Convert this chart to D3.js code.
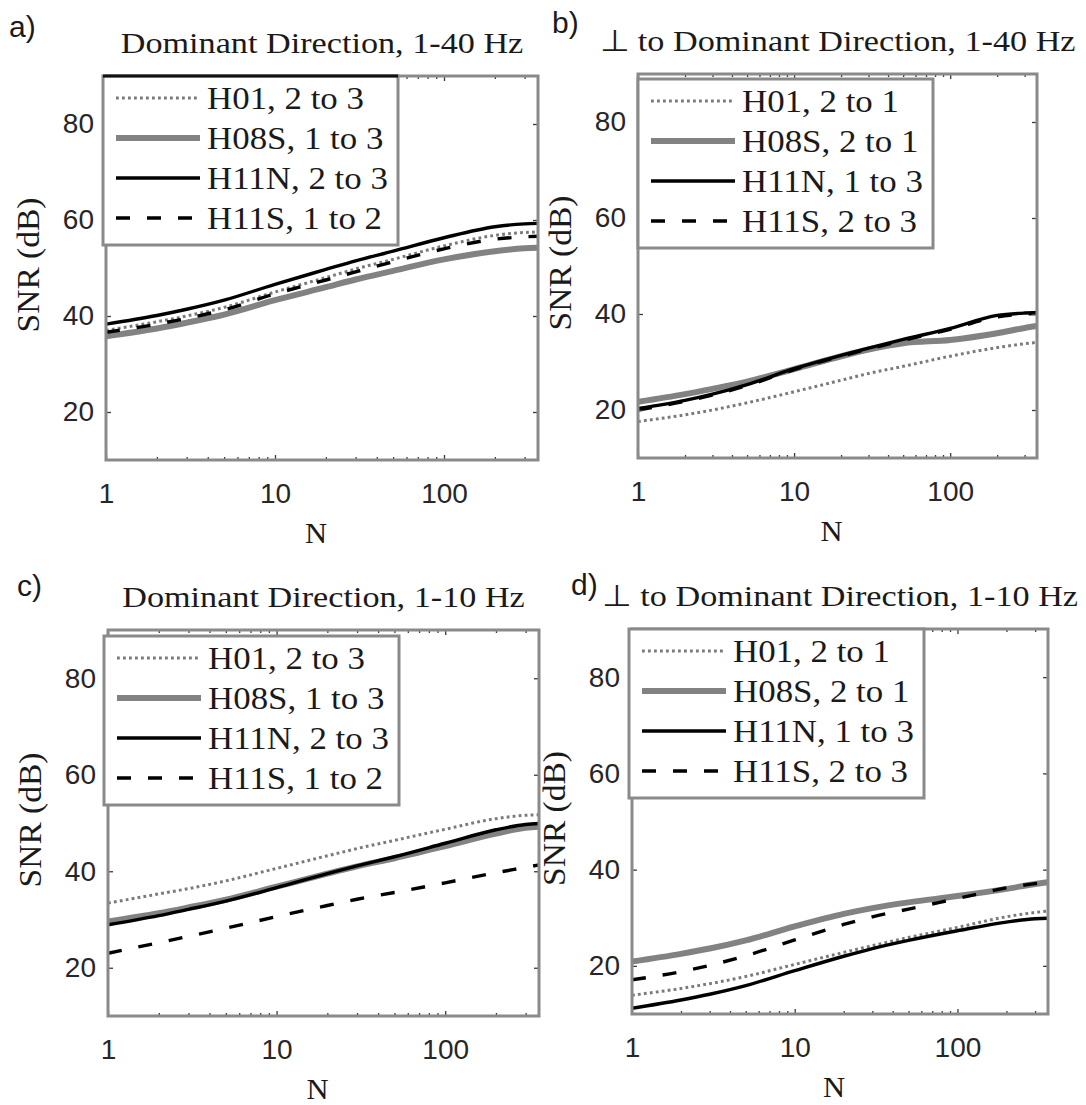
<!DOCTYPE html>
<html>
<head>
<meta charset="utf-8">
<script src="https://cdn.jsdelivr.net/npm/d3@7"></script>
<style>
  html, body { margin: 0; padding: 0; background: #fff; }
  svg { display: block; }
</style>
</head>
<body>
<svg id="chart" width="1086" height="1105"></svg>
<script>
// ---- data -------------------------------------------------------------
const stackSizes = [1, 2, 3, 5, 10, 20, 30, 50, 100, 200, 300, 360];
const xTickValues = [1, 10, 100];
const xMinorValues = [2, 3, 4, 5, 6, 7, 8, 9, 20, 30, 40, 50, 60, 70, 80, 90, 200, 300];
const yTickValues = [20, 40, 60, 80];
const seriesKeys = ["H01", "H08S", "H11N", "H11S"];

const legendDominant = ["H01, 2 to 3", "H08S, 1 to 3", "H11N, 2 to 3", "H11S, 1 to 2"];
const legendPerp = ["H01, 2 to 1", "H08S, 2 to 1", "H11N, 1 to 3", "H11S, 2 to 3"];

const panelLabels = ["a)", "b)", "c)", "d)"];
const panelTitles = [
  "Dominant Direction, 1-40 Hz",
  "\u22A5 to Dominant Direction, 1-40 Hz",
  "Dominant Direction, 1-10 Hz",
  "\u22A5 to Dominant Direction, 1-10 Hz"
];

// SNR (dB) against stack size N
const snrA_H01  = [37.0, 38.8, 40.0, 41.8, 45.0, 48.0, 49.8, 51.8, 54.6, 56.8, 57.4, 57.5];
const snrA_H08S = [35.8, 37.4, 38.6, 40.3, 43.3, 46.0, 47.6, 49.4, 51.8, 53.5, 54.1, 54.2];
const snrA_H11N = [38.3, 40.1, 41.4, 43.3, 46.6, 49.7, 51.5, 53.5, 56.3, 58.6, 59.2, 59.3];
const snrA_H11S = [36.6, 38.3, 39.5, 41.3, 44.6, 47.5, 49.2, 51.3, 54.0, 56.0, 56.5, 56.6];

const snrB_H01  = [17.6, 19.0, 20.0, 21.5, 23.8, 26.2, 27.6, 29.1, 31.2, 33.0, 33.8, 34.1];
const snrB_H08S = [21.7, 23.3, 24.4, 25.9, 28.5, 31.2, 32.6, 33.9, 34.6, 36.0, 37.1, 37.5];
const snrB_H11N = [20.3, 22.0, 23.3, 25.3, 28.6, 31.4, 32.9, 34.7, 37.0, 39.7, 40.2, 40.3];
const snrB_H11S = [20.0, 21.8, 23.1, 25.1, 28.4, 31.2, 32.7, 34.5, 36.8, 39.4, 40.0, 40.1];

const snrC_H01  = [33.4, 35.3, 36.4, 38.0, 40.6, 43.2, 44.7, 46.4, 48.7, 50.9, 51.6, 51.7];
const snrC_H08S = [29.6, 31.3, 32.5, 34.1, 36.8, 39.5, 41.0, 42.7, 45.2, 47.8, 49.0, 49.2];
const snrC_H11N = [28.9, 30.8, 32.1, 33.8, 36.6, 39.5, 41.1, 43.0, 45.8, 48.6, 49.7, 49.9];
const snrC_H11S = [23.0, 25.2, 26.5, 28.2, 30.6, 32.9, 34.2, 35.6, 37.6, 39.7, 40.8, 41.3];

const snrD_H01  = [13.9, 15.3, 16.3, 17.8, 20.3, 22.8, 24.2, 25.9, 28.0, 30.2, 31.1, 31.4];
const snrD_H08S = [20.9, 22.5, 23.6, 25.3, 28.2, 30.8, 32.0, 33.2, 34.5, 36.0, 37.0, 37.4];
const snrD_H11N = [11.2, 12.9, 14.1, 15.9, 19.0, 22.0, 23.6, 25.3, 27.3, 29.1, 29.8, 29.9];
const snrD_H11S = [17.1, 18.8, 20.1, 22.1, 25.4, 28.6, 30.2, 31.8, 34.0, 36.2, 37.1, 37.4];

// ---- layout & styles -------------------------------------------------
const xDomain = [1, 360];
const yDomain = [10, 90];

const panels = [
  { label: panelLabels[0], title: panelTitles[0], legend: legendDominant,
    series: [snrA_H01, snrA_H08S, snrA_H11N, snrA_H11S],
    box: { l: 106, r: 538, t: 76, b: 460 }, labelPos: [9, 37],
    legendOff: [-3, 0], legendTopColor: "#111" },
  { label: panelLabels[1], title: panelTitles[1], legend: legendPerp,
    series: [snrB_H01, snrB_H08S, snrB_H11N, snrB_H11S],
    box: { l: 638, r: 1037, t: 74, b: 458 }, labelPos: [552, 33],
    legendOff: [0, 5], legendTopColor: null },
  { label: panelLabels[2], title: panelTitles[2], legend: legendDominant,
    series: [snrC_H01, snrC_H08S, snrC_H11N, snrC_H11S],
    box: { l: 108, r: 539, t: 630, b: 1016 }, labelPos: [17, 596],
    legendOff: [-4, 6], legendTopColor: null },
  { label: panelLabels[3], title: panelTitles[3], legend: legendPerp,
    series: [snrD_H01, snrD_H08S, snrD_H11N, snrD_H11S],
    box: { l: 632, r: 1048, t: 629, b: 1014 }, labelPos: [571, 595],
    legendOff: [-3, 0], legendTopColor: null }
];

const lineStyles = {
  H01:  { stroke: "#7a7a7a", width: 3,   dash: "2.8,3.2" },
  H08S: { stroke: "#828282", width: 6,   dash: null },
  H11N: { stroke: "#000000", width: 3.4, dash: null },
  H11S: { stroke: "#000000", width: 3.4, dash: "14,17" }
};

const SERIF = "'Liberation Serif', 'Times New Roman', serif";
const SANS = "'Liberation Sans', Arial, Helvetica, sans-serif";
const AXIS_GRAY = "#8a8a8a";
const TICK_DARK = "#3a3a3a";

const svg = d3.select("#chart");
svg.append("rect").attr("width", 1086).attr("height", 1105).attr("fill", "#fff");

// serif text with a slight horizontal stretch (wide TeX-like face)
function serifText(g, x, y, txt, size, sx, anchor, rot) {
  return g.append("text")
    .attr("transform", `translate(${x},${y}) rotate(${rot || 0}) scale(${sx},1)`)
    .attr("text-anchor", anchor || "start")
    .style("font-family", SERIF)
    .style("font-size", size + "px")
    .attr("fill", "#1a1a1a")
    .text(txt);
}

panels.forEach((p, pi) => {
  const { l, r, t, b } = p.box;
  const x = d3.scaleLog().domain(xDomain).range([l, r]);
  const y = d3.scaleLinear().domain(yDomain).range([b, t]);
  const g = svg.append("g").attr("class", "panel-" + pi);

  const clipId = "clip" + pi;
  g.append("clipPath").attr("id", clipId)
    .append("rect").attr("x", l).attr("y", t).attr("width", r - l).attr("height", b - t);

  // series lines
  const line = d3.line()
    .x(d => x(d[0]))
    .y(d => y(d[1]))
    .curve(d3.curveMonotoneX);

  seriesKeys.forEach((key, si) => {
    const st = lineStyles[key];
    const pts = stackSizes.map((n, i) => [n, p.series[si][i]]);
    g.append("path")
      .attr("clip-path", `url(#${clipId})`)
      .attr("d", line(pts))
      .attr("fill", "none")
      .attr("stroke", st.stroke)
      .attr("stroke-width", st.width)
      .attr("stroke-dasharray", st.dash)
      .attr("stroke-linejoin", "round");
  });

  // axes: inward major and minor ticks on all four sides
  const styleAxis = sel => {
    sel.select(".domain").remove();
    sel.selectAll(".tick line").attr("stroke", TICK_DARK).attr("stroke-width", 1.3);
    sel.selectAll(".tick text")
      .style("font-family", SANS).style("font-size", "28px").attr("fill", "#262626");
  };

  g.append("g").attr("transform", `translate(0,${b})`)
    .call(d3.axisBottom(x).tickValues(xTickValues).tickFormat(d3.format("d"))
      .tickSizeInner(-5).tickSizeOuter(0).tickPadding(23))
    .call(styleAxis);
  g.append("g").attr("transform", `translate(0,${b})`)
    .call(d3.axisBottom(x).tickValues(xMinorValues).tickFormat("")
      .tickSizeInner(-3).tickSizeOuter(0))
    .call(styleAxis);
  g.append("g").attr("transform", `translate(0,${t})`)
    .call(d3.axisTop(x).tickValues(xTickValues).tickFormat("")
      .tickSizeInner(-5).tickSizeOuter(0))
    .call(styleAxis);
  g.append("g").attr("transform", `translate(0,${t})`)
    .call(d3.axisTop(x).tickValues(xMinorValues).tickFormat("")
      .tickSizeInner(-3).tickSizeOuter(0))
    .call(styleAxis);
  g.append("g").attr("transform", `translate(${l},0)`)
    .call(d3.axisLeft(y).tickValues(yTickValues).tickFormat(d3.format("d"))
      .tickSizeInner(-5).tickSizeOuter(0).tickPadding(12))
    .call(styleAxis);
  g.append("g").attr("transform", `translate(${r},0)`)
    .call(d3.axisRight(y).tickValues(yTickValues).tickFormat("")
      .tickSizeInner(-5).tickSizeOuter(0))
    .call(styleAxis);

  // axes box
  g.append("rect")
    .attr("x", l).attr("y", t).attr("width", r - l).attr("height", b - t)
    .attr("fill", "none").attr("stroke", AXIS_GRAY).attr("stroke-width", 3);

  // legend
  const lx = l + p.legendOff[0], ly = t + p.legendOff[1];
  const lw = 295, lh = 169;
  const lg = g.append("g").attr("class", "legend");
  lg.append("rect")
    .attr("x", lx).attr("y", ly).attr("width", lw).attr("height", lh)
    .attr("fill", "#fff").attr("stroke", AXIS_GRAY).attr("stroke-width", 3);
  if (p.legendTopColor) {
    lg.append("line")
      .attr("x1", lx).attr("x2", lx + lw).attr("y1", ly).attr("y2", ly)
      .attr("stroke", p.legendTopColor).attr("stroke-width", 3);
  }
  seriesKeys.forEach((key, si) => {
    const st = lineStyles[key];
    const ry = ly + 22 + 40 * si;
    lg.append("line")
      .attr("x1", lx + 13).attr("x2", lx + 97)
      .attr("y1", ry).attr("y2", ry)
      .attr("stroke", st.stroke)
      .attr("stroke-width", st.width)
      .attr("stroke-dasharray", st.dash);
    serifText(lg, lx + 104, ry + 11, p.legend[si], 32, 1.09, "start");
  });

  // titles and axis labels
  const cx = (l + r) / 2;
  serifText(g, cx, t - 23, p.title, 30, 1.14, "middle");
  serifText(g, cx - 6, b + 83, "N", 30, 1.02, "middle");
  serifText(g, l - 67, (t + b) / 2 - 3, "SNR (dB)", 31, 1.08, "middle", -90);

  g.append("text")
    .attr("x", p.labelPos[0]).attr("y", p.labelPos[1])
    .style("font-family", SANS).style("font-size", "30px")
    .attr("fill", "#1a1a1a")
    .text(p.label);
});
</script>
</body>
</html>
